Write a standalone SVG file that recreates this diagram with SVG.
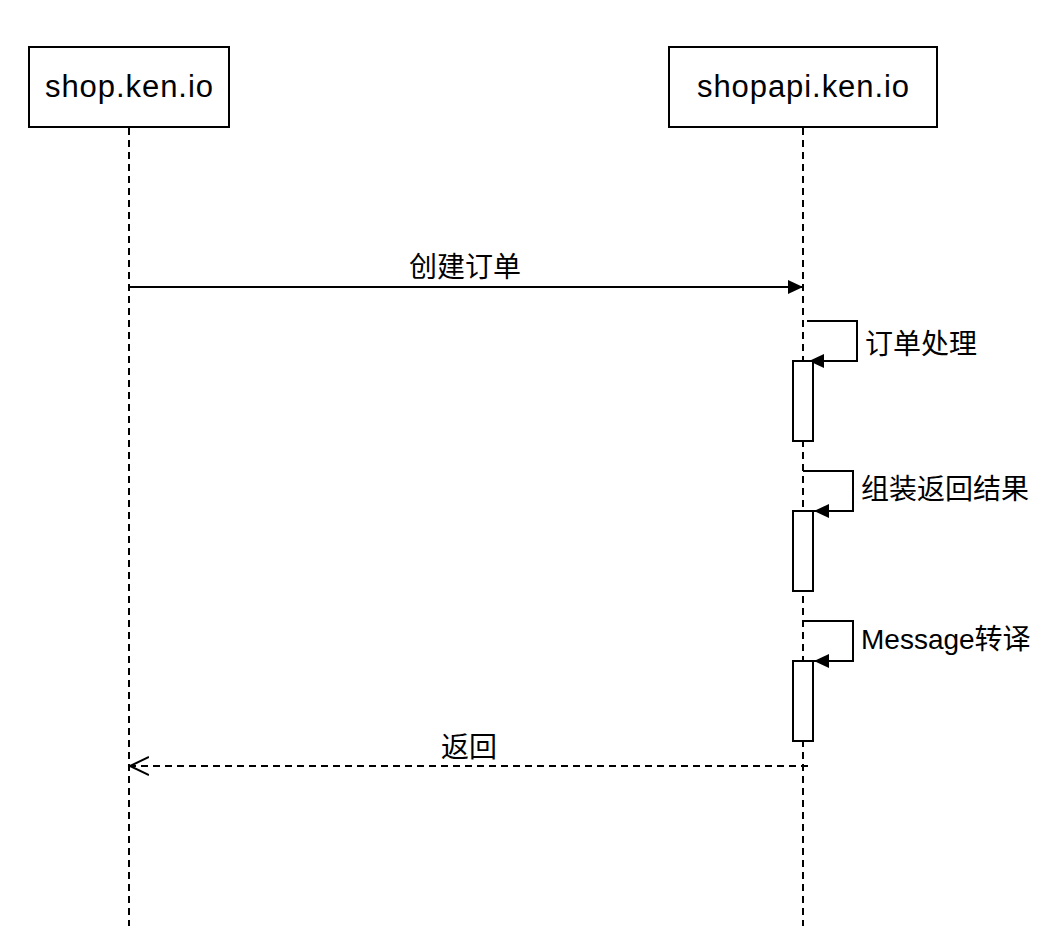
<svg xmlns="http://www.w3.org/2000/svg" width="1064" height="930" viewBox="0 0 1064 930">
<style>
.box{fill:#fff;stroke:#000;stroke-width:2}
.life{fill:none;stroke:#000;stroke-width:2;stroke-dasharray:7 5}
.line{fill:none;stroke:#000;stroke-width:2}
.dash{fill:none;stroke:#000;stroke-width:2;stroke-dasharray:7 5}
.act{fill:#fff;stroke:#000;stroke-width:2}
.t{font-family:"Liberation Sans","Noto Sans CJK SC",sans-serif;font-size:28px;fill:#000}
.h{font-family:"Liberation Sans",sans-serif;font-size:31px;fill:#000}
</style>
<defs>
<marker id="fill" markerWidth="16" markerHeight="14" refX="15" refY="7" orient="auto" markerUnits="userSpaceOnUse">
<path d="M0,0 L15,7 L0,14 Z" fill="#000"/>
</marker>
<marker id="open" markerWidth="22" markerHeight="22" refX="19" refY="10" orient="auto" markerUnits="userSpaceOnUse">
<path d="M0,1 L19,10 L0,19" fill="none" stroke="#000" stroke-width="2"/>
</marker>
</defs>
<rect width="1064" height="930" fill="#fff"/>
<g id="connectors">
<line class="life" x1="129" y1="128" x2="129" y2="926"/>
<line class="life" x1="803" y1="128" x2="803" y2="926"/>
<line class="line" x1="129" y1="287" x2="803" y2="287" marker-end="url(#fill)"/>
<text class="t" x="465" y="277" text-anchor="middle">创建订单</text>
<path class="line" d="M807,321 H857 V361 H809" marker-end="url(#fill)"/>
<text class="t" x="865" y="354">订单处理</text>
<path class="line" d="M803,471 H853 V511 H814" marker-end="url(#fill)"/>
<text class="t" x="861" y="499">组装返回结果</text>
<path class="line" d="M803,621 H853 V661 H814" marker-end="url(#fill)"/>
<text class="t" x="861" y="649">Message转译</text>
<line class="dash" x1="808" y1="766" x2="130" y2="766" marker-end="url(#open)"/>
<text class="t" x="469" y="757" text-anchor="middle">返回</text>
</g>
<g id="shop">
<rect class="box" x="29" y="47" width="200" height="80"/>
<text class="h" x="129" y="97" text-anchor="middle" textLength="168" lengthAdjust="spacing">shop.ken.io</text>
</g>
<g id="shopapi">
<rect class="box" x="669" y="47" width="268" height="80"/>
<text class="h" x="803" y="97" text-anchor="middle" textLength="212" lengthAdjust="spacing">shopapi.ken.io</text>
</g>
<g id="act1"><rect class="act" x="793" y="361" width="20" height="80"/></g>
<g id="act2"><rect class="act" x="793" y="511" width="20" height="80"/></g>
<g id="act3"><rect class="act" x="793" y="661" width="20" height="80"/></g>
</svg>
